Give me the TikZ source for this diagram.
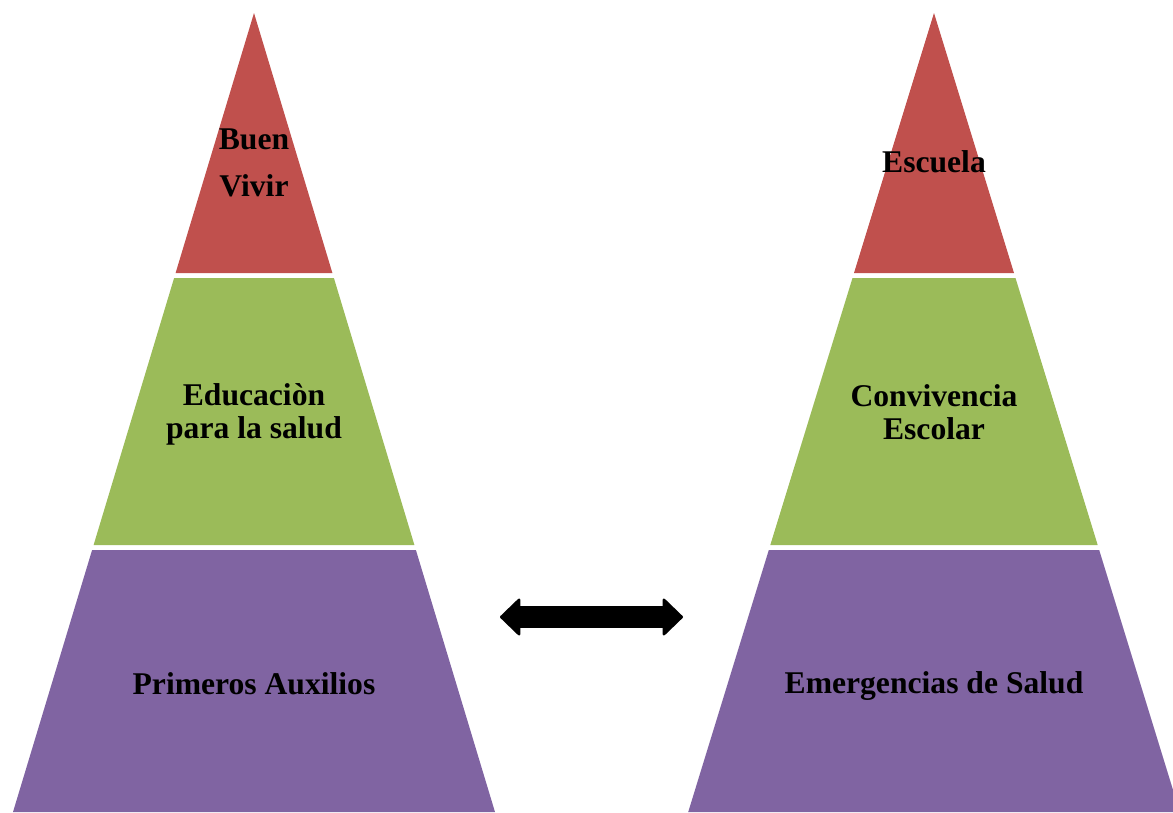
\documentclass[tikz,border=0pt]{standalone}
\usepackage{fontspec}
\setmainfont{Liberation Serif}
\usetikzlibrary{arrows.meta}
\definecolor{tierred}{HTML}{C0504D}
\definecolor{tiergreen}{HTML}{9BBB59}
\definecolor{tierpurple}{HTML}{8064A2}
\tikzset{
  tiertext/.style={font=\fontsize{18}{19}\selectfont\bfseries, align=center, inner sep=0pt},
  bigtip/.tip={Triangle[round, length=0.42cm, width=0.80cm, line width=1.5pt]}
}
\begin{document}
\begin{tikzpicture}[x=0.02cm, y=-0.02cm]
          \clip (0,0) rectangle (1173,812);
          \fill[tierred] (254,13) -- (332.4,273) -- (175.6,273) -- cycle;
          \fill[tiergreen] (174.1,278) -- (333.9,278) -- (414.4,545) -- (93.6,545) -- cycle;
          \fill[tierpurple] (92.1,550) -- (415.9,550) -- (495,812) -- (13,812) -- cycle;
          \fill[tierred] (934,13) -- (1014,273) -- (854,273) -- cycle;
          \fill[tiergreen] (852.5,278) -- (1015.5,278) -- (1097.7,545) -- (770.3,545) -- cycle;
          \fill[tierpurple] (768.8,550) -- (1099.2,550) -- (1179.8,812) -- (688.2,812) -- cycle;
          \node[tiertext, font=\fontsize{18}{26.7}\selectfont\bfseries] (buenvivir) at (254,163) {Buen\\Vivir};
          \node[tiertext] (educacion) at (254,414.5) {Educaciòn\\para la salud};
          \node[tiertext, anchor=base] (primeros) at (254,694) {Primeros Auxilios};
          \node[tiertext, anchor=base] (escuela) at (934,172) {Escuela};
          \node[tiertext] (convivencia) at (934,412) {Convivencia\\Escolar};
          \node[tiertext, anchor=base] (emergencias) at (934,693.5) {Emergencias de Salud};
          \coordinate (arrowl) at (500,617);
          \coordinate (arrowr) at (683,617);
          \draw[line width=0.44cm, {bigtip}-{bigtip}] (arrowl) -- (arrowr);
        \end{tikzpicture}
\end{document}
